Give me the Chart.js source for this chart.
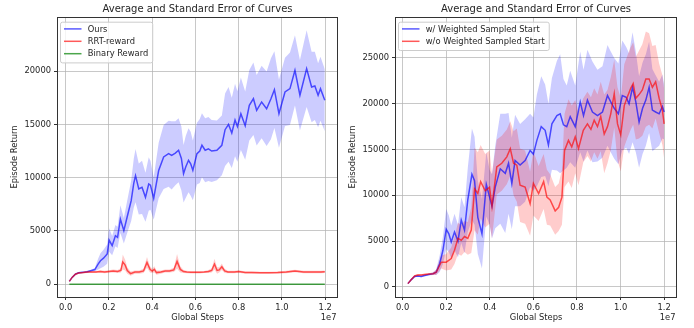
<!DOCTYPE html>
<html>
<head>
<meta charset="utf-8">
<script src="https://cdn.jsdelivr.net/npm/chart.js@4.4.1/dist/chart.umd.min.js"></script>
<style>
  html, body { margin: 0; padding: 0; background: #fff; }
  #wrap { position: relative; width: 694px; height: 328px; }
  canvas { position: absolute; top: 0; }
</style>
</head>
<body>
<div id="wrap">
  <canvas id="left" width="347" height="328" style="left:0"></canvas>
  <canvas id="right" width="347" height="328" style="left:347px"></canvas>
</div>
<script>
// global steps are stored in millions (axis shows them in 1e7)
const xTickSteps = [0, 2, 4, 6, 8, 10, 12];
const leftYTicks = [0, 5000, 10000, 15000, 20000];
const rightYTicks = [0, 5000, 10000, 15000, 20000, 25000];

// ---- left panel ----
const oursSteps = [0.17, 0.3, 0.45, 0.6, 0.8, 1.0, 1.2, 1.35, 1.5, 1.61, 1.75, 1.92, 2.01, 2.15, 2.3, 2.4, 2.53, 2.69, 2.84, 3.03,
  3.15, 3.23, 3.38, 3.53, 3.69, 3.84, 3.92, 4.07, 4.3, 4.53, 4.76, 4.9, 5.07, 5.22, 5.35, 5.45, 5.55, 5.68, 5.78, 5.88,
  6.07, 6.2, 6.3, 6.45, 6.6, 6.75, 6.99, 7.22, 7.37, 7.53, 7.68, 7.83, 7.94, 8.1, 8.3, 8.49, 8.68, 8.83, 9.06, 9.29,
  9.49, 9.65, 9.86, 10.14, 10.37, 10.6, 10.83, 11.14, 11.37, 11.52, 11.67, 11.78, 11.98];
const oursMean = [280, 650, 950, 1080, 1120, 1180, 1300, 1380, 1900, 2210, 2450, 2840, 4150, 3620, 4560, 4400, 6120, 5030, 6290, 7840,
  9500, 10190, 8940, 9100, 8160, 9410, 9300, 8050, 10670, 11940, 12250, 12100, 12300, 12570, 11800, 10370, 11000, 11630, 11300, 10690,
  12250, 12500, 13040, 12570, 12700, 12500, 12570, 13040, 14500, 15000, 14200, 15400, 14800, 16000, 14880, 16790, 17410, 16320, 17100, 16470,
  17410, 18250, 16000, 18040, 18350, 20070, 17730, 20230, 18510, 18600, 17730, 18350, 17260];
const oursErr = [50, 60, 80, 80, 80, 90, 100, 150, 500, 700, 800, 900, 1100, 900, 1000, 1000, 1300, 1200, 1500, 1900,
  2300, 2500, 2400, 2500, 2300, 2500, 2300, 2000, 2600, 3000, 3100, 3200, 3000, 3000, 3000, 2700, 2900, 3000, 3000, 2800,
  2900, 3000, 3000, 3000, 3000, 2900, 2800, 2800, 3400, 3500, 3300, 3400, 3300, 3400, 3200, 3300, 3400, 3300, 3400, 3500,
  3800, 3600, 3200, 3200, 3400, 3300, 3300, 3600, 3300, 3200, 3000, 3000, 2900];

const rrtSteps = [0.17, 0.3, 0.45, 0.6, 0.8, 1.0, 1.2, 1.4, 1.6, 1.8, 2.0, 2.2, 2.4, 2.55, 2.64, 2.75, 2.85, 3.0, 3.2, 3.4,
  3.6, 3.76, 3.9, 4.0, 4.1, 4.2, 4.4, 4.6, 4.8, 5.0, 5.15, 5.3, 5.45, 5.6, 5.8, 6.0, 6.2, 6.4, 6.6, 6.75,
  6.88, 7.0, 7.1, 7.22, 7.35, 7.5, 7.8, 8.0, 8.3, 8.6, 9.0, 9.4, 9.8, 10.2, 10.6, 11.0, 11.4, 11.8, 11.98];
const rrtMean = [280, 650, 950, 1060, 1100, 1150, 1150, 1150, 1200, 1150, 1200, 1250, 1200, 1300, 2100, 1800, 1300, 1000, 1150, 1150,
  1250, 2050, 1400, 1250, 1400, 1100, 1150, 1250, 1250, 1350, 2150, 1400, 1200, 1150, 1120, 1120, 1120, 1150, 1200, 1300,
  1900, 1300, 1350, 1650, 1250, 1150, 1150, 1200, 1100, 1100, 1080, 1080, 1100, 1150, 1250, 1150, 1150, 1150, 1180];
const rrtErr = [50, 60, 80, 80, 80, 100, 100, 100, 120, 120, 120, 150, 150, 200, 700, 500, 300, 200, 150, 150,
  200, 500, 300, 200, 300, 200, 150, 150, 150, 200, 700, 300, 150, 120, 100, 100, 100, 100, 150, 200,
  500, 300, 250, 300, 200, 120, 120, 120, 100, 100, 100, 100, 100, 120, 120, 120, 120, 120, 120];

const binarySteps = [0.17, 3.0, 6.0, 9.0, 11.98];
const binaryMean = [0, 0, 0, 0, 0];

// ---- right panel ----
const wSteps = [0.24, 0.4, 0.55, 0.7, 0.85, 1.0, 1.2, 1.4, 1.54, 1.7, 1.85, 2.0, 2.12, 2.23, 2.38, 2.54, 2.69, 2.84, 2.99, 3.18,
  3.3, 3.45, 3.64, 3.84, 3.99, 4.1, 4.25, 4.48, 4.71, 4.86, 5.01, 5.16, 5.39, 5.62, 5.85, 6.0, 6.16, 6.36, 6.54, 6.69,
  6.85, 7.08, 7.23, 7.38, 7.53, 7.69, 7.92, 8.15, 8.3, 8.48, 8.71, 8.94, 9.17, 9.4, 9.55, 9.71, 9.9, 10.08, 10.26, 10.39,
  10.55, 10.7, 10.85, 11.01, 11.16, 11.31, 11.46, 11.61, 11.77, 11.92, 12.0];
const wMean = [360, 800, 1150, 1200, 1150, 1250, 1350, 1450, 1600, 2540, 4000, 6300, 5800, 4900, 6000, 5000, 7300, 6200, 9500, 12300,
  11600, 7600, 5800, 11200, 9800, 8800, 10900, 12900, 12400, 13500, 11300, 13800, 13300, 13800, 14900, 14500, 16000, 17500, 17100, 15500,
  17800, 18700, 18900, 17700, 17500, 18600, 17500, 20200, 18700, 20400, 19100, 18700, 19100, 20900, 20200, 19500, 18900, 20900, 20700, 20000,
  21800, 20200, 18000, 19500, 20400, 21800, 19300, 19100, 18900, 19700, 19100];
const wErr = [80, 100, 100, 100, 100, 100, 100, 150, 300, 900, 1500, 2200, 2000, 1800, 2000, 1800, 2500, 2500, 3500, 5000,
  4800, 4000, 3800, 3500, 3000, 3500, 4500, 6000, 6500, 5500, 5000, 5000, 4500, 4500, 4000, 4000, 5000, 5500, 5000, 4500,
  5000, 6000, 6500, 5000, 4500, 5000, 4500, 5500, 5000, 5500, 5500, 5000, 5000, 5500, 5500, 5500, 5500, 6000, 5500, 5500,
  6000, 5500, 5000, 5000, 5000, 5000, 4500, 4000, 3500, 3500, 3000];

const woSteps = [0.24, 0.4, 0.55, 0.7, 0.85, 1.0, 1.2, 1.4, 1.54, 1.77, 2.0, 2.23, 2.38, 2.54, 2.69, 2.84, 2.99, 3.15, 3.3, 3.45,
  3.58, 3.79, 3.99, 4.1, 4.32, 4.55, 4.78, 4.94, 5.09, 5.24, 5.39, 5.62, 5.85, 6.0, 6.24, 6.47, 6.62, 6.77, 7.0, 7.16,
  7.31, 7.43, 7.61, 7.76, 7.92, 8.07, 8.29, 8.48, 8.64, 8.79, 8.94, 9.09, 9.25, 9.4, 9.55, 9.71, 9.86, 10.01, 10.17, 10.32,
  10.47, 10.58, 10.7, 10.85, 11.0, 11.16, 11.31, 11.46, 11.61, 11.77, 11.92, 12.0];
const woMean = [360, 800, 1200, 1300, 1300, 1350, 1400, 1450, 1600, 2700, 2700, 3100, 4000, 5300, 5100, 5500, 5300, 6200, 10700, 10200,
  11500, 10500, 10900, 8800, 13100, 13500, 14200, 15100, 13500, 13300, 11100, 10900, 9100, 11300, 10200, 11500, 9800, 9500, 8300, 8700,
  9800, 14900, 16000, 15300, 16400, 15100, 17100, 17800, 17200, 18200, 17500, 18600, 16700, 17500, 18900, 21100, 17800, 16600, 19800, 20800,
  21700, 22200, 20600, 21000, 21500, 22700, 22700, 21800, 22400, 20600, 19300, 17800];
const woErr = [80, 100, 100, 100, 100, 100, 100, 150, 300, 700, 900, 1200, 1500, 1700, 1700, 1700, 1800, 2500, 4500, 4500,
  4000, 4000, 4000, 3500, 3000, 3000, 3000, 3000, 3500, 4000, 4000, 4000, 3500, 3500, 3000, 3000, 3000, 2800, 2600, 2600,
  3000, 4000, 4500, 4500, 4000, 4000, 3500, 3500, 3500, 3500, 3500, 3800, 4300, 4000, 4000, 3700, 4000, 4000, 4500, 4500,
  4500, 4500, 4500, 4800, 5000, 5200, 5000, 4500, 4000, 3800, 3800, 3800];

const FAMILY = "'DejaVu Sans', sans-serif";
const TEXT = '#262626';
const GRID = 'rgba(176,176,176,0.7)';
const font = { family: FAMILY, size: 8.33 };

function pts(steps, vals, err, sign) {
  return steps.map((s, i) => ({ x: s * 1e6, y: vals[i] + (err ? sign * err[i] : 0) }));
}

function meanLine(label, steps, mean, color, order) {
  return { label, data: pts(steps, mean), borderColor: color, borderWidth: 1.5, pointRadius: 0, tension: 0, fill: false, order };
}

// two invisible edges, the upper one filled down to the lower one
function band(steps, mean, err, color, loIndex, order) {
  const edge = { borderColor: 'transparent', borderWidth: 0, pointRadius: 0, tension: 0, order };
  return [
    { ...edge, label: '_lo', data: pts(steps, mean, err, -1), fill: false },
    { ...edge, label: '_hi', data: pts(steps, mean, err, 1), fill: { target: loIndex }, backgroundColor: color },
  ];
}

const framePlugin = {
  id: 'frame',
  afterDraw(chart) {
    const { ctx, chartArea: a } = chart;
    ctx.save();
    // spines
    ctx.strokeStyle = '#333';
    ctx.lineWidth = 1;
    ctx.strokeRect(Math.round(a.left) + 0.5, Math.round(a.top) + 0.5,
      Math.round(a.right - a.left) - 1, Math.round(a.bottom - a.top));
    // offset label of the x axis
    ctx.font = `8.33px ${FAMILY}`;
    ctx.fillStyle = TEXT;
    ctx.textAlign = 'right';
    ctx.textBaseline = 'middle';
    ctx.fillText('1e7', a.right - 1.5, 318);
    // legend box in the upper left corner
    const items = chart.data.datasets.filter(d => !d.label.startsWith('_'));
    const rowH = 12.4;
    const textW = Math.max(...items.map(d => ctx.measureText(d.label).width));
    const x0 = a.left + 3, y0 = a.top + 4.7;
    const w = 27.8 + textW + 4, h = items.length * rowH + 3.5;
    ctx.beginPath();
    ctx.roundRect(x0 + 0.5, y0 + 0.5, w, h, 2);
    ctx.fillStyle = 'rgba(255,255,255,0.8)';
    ctx.fill();
    ctx.strokeStyle = '#cccccc';
    ctx.stroke();
    ctx.textAlign = 'left';
    items.forEach((d, i) => {
      const cy = y0 + 7.2 + i * rowH;
      ctx.beginPath();
      ctx.moveTo(x0 + 4, cy);
      ctx.lineTo(x0 + 21.5, cy);
      ctx.strokeStyle = d.borderColor;
      ctx.lineWidth = 1.5;
      ctx.stroke();
      ctx.fillStyle = TEXT;
      ctx.fillText(d.label, x0 + 27.8, cy + 0.5);
    });
    ctx.restore();
  }
};

function makeChart(canvasId, datasets, opts) {
  const ctx = document.getElementById(canvasId).getContext('2d');
  return new Chart(ctx, {
    type: 'line',
    data: { datasets },
    plugins: [framePlugin],
    options: {
      responsive: false,
      animation: false,
      devicePixelRatio: 1,
      layout: { padding: opts.padding },
      plugins: {
        legend: { display: false },
        tooltip: { enabled: false },
        title: {
          display: true, text: 'Average and Standard Error of Curves', color: TEXT, fullSize: false,
          font: { family: FAMILY, size: 10, weight: 'normal' }, padding: { top: 3, bottom: 2 }
        }
      },
      scales: {
        x: {
          type: 'linear', min: opts.xMin * 1e6, max: opts.xMax * 1e6,
          afterBuildTicks: ax => { ax.ticks = xTickSteps.map(v => ({ value: v * 1e6 })); },
          afterFit: s => { s.height = 31; },
          ticks: { callback: v => (v / 1e7).toFixed(1), font, color: TEXT, padding: 3, maxRotation: 0, autoSkip: false },
          grid: { color: GRID, lineWidth: 1, tickLength: 3, tickColor: '#333', tickWidth: 1 },
          border: { display: false },
          title: { display: true, text: 'Global Steps', font, color: TEXT, padding: { top: 0, bottom: 5 } }
        },
        y: {
          type: 'linear', min: opts.yMin, max: opts.yMax,
          afterBuildTicks: ax => { ax.ticks = opts.yTicks.map(v => ({ value: v })); },
          afterFit: s => { s.width = 48; },
          ticks: { callback: v => String(v), font, color: TEXT, padding: 3, autoSkip: false },
          grid: { color: GRID, lineWidth: 1, tickLength: 3, tickColor: '#333', tickWidth: 1 },
          border: { display: false },
          title: { display: true, text: 'Episode Return', font, color: TEXT, padding: { top: 1, bottom: 0 } }
        }
      }
    }
  });
}

makeChart('left', [
  ...band(oursSteps, oursMean, oursErr, 'rgba(0,0,255,0.2)', 0, 10),
  ...band(rrtSteps, rrtMean, rrtErr, 'rgba(255,0,0,0.2)', 2, 9),
  meanLine('Ours', oursSteps, oursMean, 'rgba(0,0,255,0.65)', 2),
  meanLine('RRT-reward', rrtSteps, rrtMean, 'rgba(255,0,0,0.65)', 1),
  meanLine('Binary Reward', binarySteps, binaryMean, 'rgba(0,128,0,0.7)', 0),
], { padding: { left: 9, right: 9, top: 0, bottom: 0 }, xMin: -0.40, xMax: 12.59, yMin: -1190, yMax: 25070, yTicks: leftYTicks });

makeChart('right', [
  ...band(wSteps, wMean, wErr, 'rgba(0,0,255,0.2)', 0, 10),
  ...band(woSteps, woMean, woErr, 'rgba(255,0,0,0.2)', 2, 9),
  meanLine('w/ Weighted Sampled Start', wSteps, wMean, 'rgba(0,0,255,0.65)', 2),
  meanLine('w/o Weighted Sampled Start', woSteps, woMean, 'rgba(255,0,0,0.65)', 1),
], { padding: { left: 0, right: 17, top: 0, bottom: 0 }, xMin: -0.35, xMax: 12.59, yMin: -1100, yMax: 29470, yTicks: rightYTicks });
</script>
</body>
</html>
